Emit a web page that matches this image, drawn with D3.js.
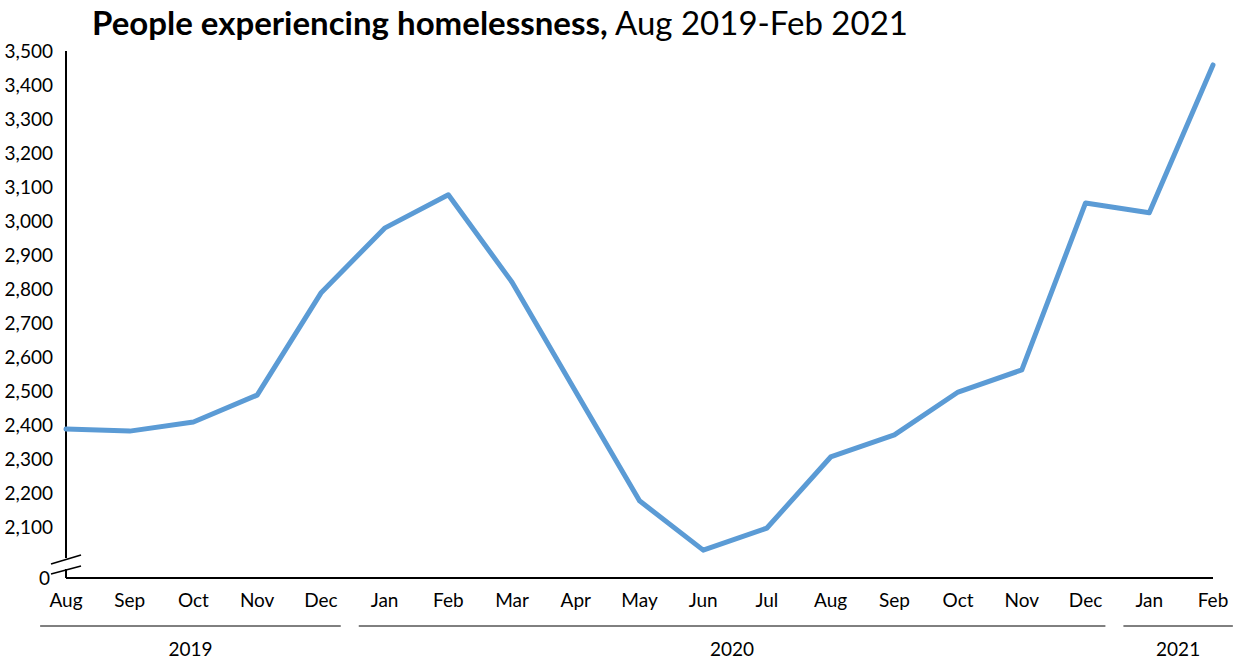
<!DOCTYPE html>
<html>
<head>
<meta charset="utf-8">
<script src="https://cdn.jsdelivr.net/npm/d3@7"></script>
<style>
  body { margin: 0; background: #fff; }
  svg text { font-family: Lato, "Open Sans", sans-serif; fill: #000; }
</style>
</head>
<body>
<div id="chart"></div>
<script>
// months on the x axis
const months = ["Aug", "Sep", "Oct", "Nov", "Dec", "Jan", "Feb", "Mar", "Apr", "May",
                "Jun", "Jul", "Aug", "Sep", "Oct", "Nov", "Dec", "Jan", "Feb"];
// people experiencing homelessness, one value a month
const people = [2388, 2382, 2409, 2488, 2788, 2979, 3077, 2820, 2498, 2177,
                2032, 2097, 2306, 2371, 2497, 2562, 3053, 3024, 3459];
// year groups: first and last month index
const years = [
    { label: "2019", from: 0, to: 4 },
    { label: "2020", from: 5, to: 16 },
    { label: "2021", from: 17, to: 18 }
];
const yTicks = [0, 2100, 2200, 2300, 2400, 2500, 2600, 2700, 2800, 2900, 3000, 3100, 3200, 3300, 3400, 3500];

const width = 1235, height = 664;
const plotLeft = 66, plotRight = 1213, plotTop = 51, plotBase = 578;

const svg = d3.select("#chart")
    .append("svg")
    .attr("width", width)
    .attr("height", height);

/**
 * x: index of the month -> pixel
 */
const x = d3.scaleLinear()
    .domain([0, months.length - 1])
    .range([plotLeft, plotRight]);

/**
 * y: broken axis, 0 sits on the base line, then 2,000 -> 3,500
 */
const y = d3.scaleLinear()
    .domain([0, 2000, 3500])
    .range([plotBase, 561, plotTop]);

// title, bold part then regular part
const title = svg.append("text")
    .attr("x", 92)
    .attr("y", 35)
    .style("font-size", "33px");
title.append("tspan").style("font-weight", "bold").text("People experiencing homelessness,");
title.append("tspan").text(" Aug 2019-Feb 2021");

// y axis, cut at the break
svg.append("line")
    .attr("x1", plotLeft).attr("x2", plotLeft)
    .attr("y1", plotTop).attr("y2", 558)
    .attr("stroke", "#000").attr("stroke-width", 2);
svg.append("line")
    .attr("x1", plotLeft).attr("x2", plotLeft)
    .attr("y1", 569).attr("y2", plotBase)
    .attr("stroke", "#000").attr("stroke-width", 2);

// break marks
svg.selectAll("line.brk")
    .data([[564, 555], [574, 566]])
    .enter()
    .append("line")
    .attr("class", "brk")
    .attr("x1", 51).attr("y1", d => d[0])
    .attr("x2", 81).attr("y2", d => d[1])
    .attr("stroke", "#000").attr("stroke-width", 1.6);

// x axis base line
svg.append("line")
    .attr("x1", plotLeft).attr("x2", plotRight)
    .attr("y1", plotBase).attr("y2", plotBase)
    .attr("stroke", "#000").attr("stroke-width", 2);

// y tick labels
svg.selectAll("text.ytick")
    .data(yTicks)
    .enter()
    .append("text")
    .attr("class", "ytick")
    .attr("x", d => d == 0 ? 50 : 53)
    .attr("y", d => y(d))
    .attr("dy", "0.35em")
    .attr("text-anchor", "end")
    .style("font-size", "19px")
    .text(d => d3.format(",")(d));

// month labels
svg.selectAll("text.month")
    .data(months)
    .enter()
    .append("text")
    .attr("class", "month")
    .attr("x", (d, i) => x(i))
    .attr("y", 607)
    .attr("text-anchor", "middle")
    .style("font-size", "19px")
    .text(d => d);

// year lines and labels
const step = x(1) - x(0);
const yearStart = d => Math.max(0, x(d.from) - step / 2 + 6);
const yearEnd = d => Math.min(width, x(d.to) + step / 2 - 12);

svg.selectAll("line.year")
    .data(years)
    .enter()
    .append("line")
    .attr("class", "year")
    .attr("x1", yearStart)
    .attr("x2", yearEnd)
    .attr("y1", 626).attr("y2", 626)
    .attr("stroke", "#000").attr("stroke-width", 1);

svg.selectAll("text.year")
    .data(years)
    .enter()
    .append("text")
    .attr("class", "year")
    .attr("x", d => (yearStart(d) + yearEnd(d)) / 2)
    .attr("y", 656)
    .attr("text-anchor", "middle")
    .style("font-size", "19px")
    .text(d => d.label);

// the line
const line = d3.line()
    .x((d, i) => x(i))
    .y(d => y(d));

svg.append("path")
    .datum(people)
    .attr("d", line)
    .attr("fill", "none")
    .attr("stroke", "#5B9BD5")
    .attr("stroke-width", 5)
    .attr("stroke-linejoin", "round")
    .attr("stroke-linecap", "round");
</script>
</body>
</html>
